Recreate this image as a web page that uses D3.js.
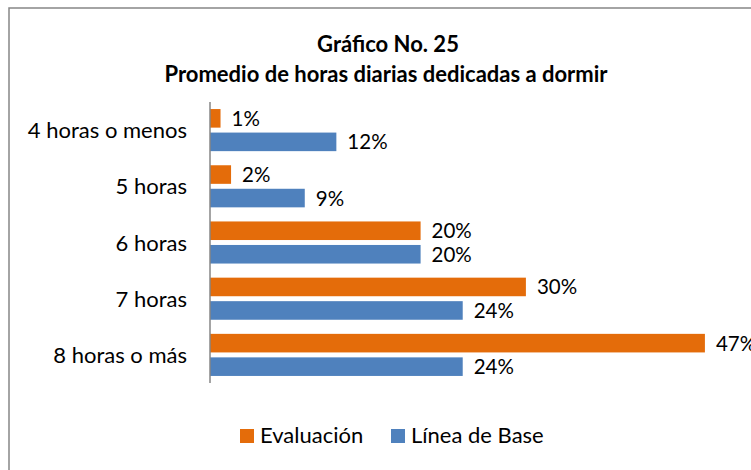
<!DOCTYPE html>
<html>
<head>
<meta charset="utf-8">
<script src="https://cdn.jsdelivr.net/npm/d3@7"></script>
<style>
  html, body { margin: 0; padding: 0; background: #fff; }
  svg { display: block; font-family: Lato, "Open Sans", sans-serif; }
</style>
</head>
<body>
<div id="chart"></div>
<script>
const categories = ['4 horas o menos', '5 horas', '6 horas', '7 horas', '8 horas o más'];
const evaluacion = [1, 2, 20, 30, 47];
const lineaBase = [12, 9, 20, 24, 24];
const seriesNames = ['Evaluación', 'Línea de Base'];
const seriesColors = ['#E46C0A', '#4F81BD'];

const W = 751, H = 470;
const svg = d3.select('#chart').append('svg')
    .attr('width', W).attr('height', H);

// marco del gráfico (se sale por la derecha y abajo)
svg.append('rect')
    .attr('x', 9).attr('y', 8)
    .attr('width', 800).attr('height', 520)
    .attr('fill', '#fff')
    .attr('stroke', '#868686').attr('stroke-width', 1.5);

// títulos
svg.append('text')
    .attr('x', 388).attr('y', 52)
    .attr('text-anchor', 'middle')
    .attr('font-weight', 'bold').attr('font-size', 22)
    .text('Gráfico No. 25');
svg.append('text')
    .attr('x', 386).attr('y', 82)
    .attr('text-anchor', 'middle')
    .attr('font-weight', 'bold').attr('font-size', 22)
    .text('Promedio de horas diarias dedicadas a dormir');

const x = d3.scaleLinear().domain([0, 50]).range([210, 736.5]);
const y = d3.scaleBand().domain(categories).range([102, 383]);
const ySub = d3.scaleBand().domain(seriesNames)
    .range([0, y.bandwidth()])
    .paddingInner(0.21).paddingOuter(0.3);

const rows = categories.map((c, i) => ({
    cat: c,
    vals: [
        {name: seriesNames[0], value: evaluacion[i]},
        {name: seriesNames[1], value: lineaBase[i]}
    ]
}));

const groups = svg.selectAll('g.grp')
    .data(rows)
    .enter().append('g')
    .attr('class', 'grp')
    .attr('transform', d => `translate(0,${y(d.cat)})`);

groups.selectAll('rect')
    .data(d => d.vals)
    .enter().append('rect')
    .attr('x', x(0))
    .attr('y', d => ySub(d.name))
    .attr('width', d => x(d.value) - x(0))
    .attr('height', ySub.bandwidth())
    .attr('fill', (d, i) => seriesColors[i]);

groups.selectAll('text.val')
    .data(d => d.vals)
    .enter().append('text')
    .attr('class', 'val')
    .attr('x', d => x(d.value) + 11)
    .attr('y', d => ySub(d.name) + ySub.bandwidth() / 2 + 7.5)
    .attr('font-size', 20.5)
    .attr('fill', '#000')
    .text(d => d.value + '%');

// etiquetas de categoría
svg.append('g')
    .selectAll('text')
    .data(categories)
    .enter().append('text')
    .attr('x', 187)
    .attr('y', d => y(d) + y.bandwidth() / 2 + 8)
    .attr('text-anchor', 'end')
    .attr('font-size', 22)
    .text(d => d);

// eje vertical
svg.append('line')
    .attr('x1', 210).attr('x2', 210)
    .attr('y1', 102).attr('y2', 383)
    .attr('stroke', '#868686').attr('stroke-width', 1.5);

// leyenda
const legendX = [240, 391];
const legend = svg.selectAll('g.leg')
    .data(seriesNames)
    .enter().append('g')
    .attr('class', 'leg')
    .attr('transform', (d, i) => `translate(${legendX[i]},429)`);
legend.append('rect')
    .attr('width', 14).attr('height', 14)
    .attr('fill', (d, i) => seriesColors[i]);
legend.append('text')
    .attr('x', 20).attr('y', 14)
    .attr('font-size', 22)
    .text(d => d);
</script>
</body>
</html>
